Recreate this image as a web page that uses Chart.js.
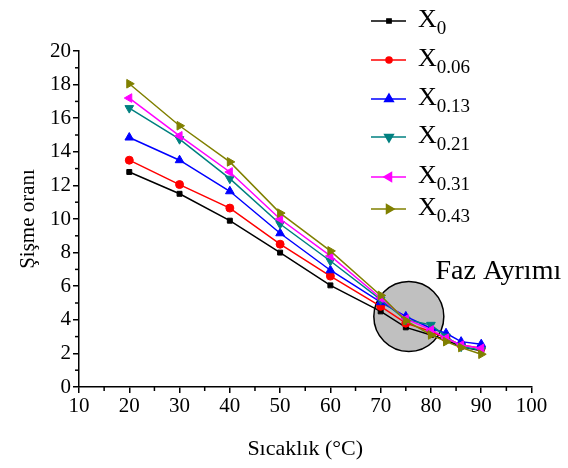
<!DOCTYPE html>
<html>
<head>
<meta charset="utf-8">
<script src="https://cdn.jsdelivr.net/npm/chart.js@4.4.1/dist/chart.umd.min.js"></script>
<style>
html,body{margin:0;padding:0;background:#fff;}
#wrap{width:568px;height:468px;position:relative;}
</style>
</head>
<body>
<div id="wrap"><canvas id="c" width="568" height="468"></canvas></div>
<script>
// ---- Data ----
const temperatures = [20, 30, 40, 50, 60, 70, 75, 80, 83, 86, 90];
const x0    = [12.8, 11.5, 9.9, 8.0, 6.05, 4.5, 3.55, 3.1, 2.8, 2.4, 2.15];
const x006  = [13.5, 12.05, 10.65, 8.5, 6.6, 4.8, 3.8, 3.3, 2.9, 2.5, 2.3];
const x013  = [14.85, 13.5, 11.65, 9.15, 6.95, 5.05, 4.2, 3.5, 3.2, 2.7, 2.55];
const x021  = [16.6, 14.75, 12.4, 9.7, 7.5, 5.2, 4.0, 3.7, 3.0, 2.4, 2.2];
const x031  = [17.2, 14.95, 12.8, 10.0, 7.8, 5.3, 4.05, 3.4, 2.9, 2.5, 2.3];
const x043  = [18.05, 15.55, 13.4, 10.35, 8.1, 5.45, 3.95, 3.1, 2.7, 2.35, 1.95];
const seriesNames = ['0', '0.06', '0.13', '0.21', '0.31', '0.43'];
const xTicks = [10, 20, 30, 40, 50, 60, 70, 80, 90, 100];
const yTicks = [0, 2, 4, 6, 8, 10, 12, 14, 16, 18, 20];
const phaseCircle = [{x: 75.6, y: 4.2, r: 35}];
const phaseLabel = 'Faz Ayrımı';
const phaseLabelPos = {x: 80.9, y: 6.45};
const xTitle = 'Sıcaklık (°C)';
const yTitle = 'Şişme oranı';

const SERIF = "'Liberation Serif', 'Times New Roman', serif";
const colors = ['#000000', '#ff0000', '#0000ff', '#008080', '#ff00ff', '#808000'];
const styles = ['rect', 'circle', 'triangle', 'triangle', 'triangle', 'triangle'];
const rotations = [0, 0, 0, 180, 270, 90];
const allSeries = [x0, x006, x013, x021, x031, x043];

const lineDatasets = allSeries.map((vals, i) => ({
  type: 'line',
  label: 'X' + seriesNames[i],
  data: temperatures.map((t, k) => ({x: t, y: vals[k]})),
  borderColor: colors[i],
  backgroundColor: colors[i],
  borderWidth: 1.5,
  pointStyle: styles[i],
  pointRotation: rotations[i],
  pointRadius: i === 0 ? 3.5 : (i === 1 ? 4 : 5),
  pointBorderWidth: 1,
  tension: 0,
  order: 6 - i
}));

const bubble = {
  type: 'bubble',
  label: 'phase',
  data: phaseCircle,
  backgroundColor: '#c0c0c0',
  borderColor: '#000000',
  borderWidth: 1.5,
  order: 20
};

const extras = {
  id: 'extras',
  afterDraw(chart) {
    const ctx = chart.ctx;
    const xs = chart.scales.x, ys = chart.scales.y;
    ctx.save();
    // minor ticks
    ctx.strokeStyle = '#000';
    ctx.lineWidth = 1.5;
    for (let v = 15; v < 100; v += 10) {
      const px = xs.getPixelForValue(v);
      ctx.beginPath(); ctx.moveTo(px, ys.bottom); ctx.lineTo(px, ys.bottom + 4); ctx.stroke();
    }
    for (let v = 1; v < 20; v += 2) {
      const py = ys.getPixelForValue(v);
      ctx.beginPath(); ctx.moveTo(xs.left, py); ctx.lineTo(xs.left - 4, py); ctx.stroke();
    }
    // phase label
    ctx.fillStyle = '#000';
    ctx.font = '28px ' + SERIF;
    ctx.textBaseline = 'alphabetic';
    ctx.textAlign = 'left';
    ctx.fillText(phaseLabel, xs.getPixelForValue(phaseLabelPos.x), ys.getPixelForValue(phaseLabelPos.y));
    // legend
    const legY = [21, 60, 99, 137, 177, 209];
    for (let i = 0; i < 6; i++) {
      const y = legY[i];
      ctx.strokeStyle = colors[i];
      ctx.lineWidth = 1.5;
      ctx.beginPath(); ctx.moveTo(371, y); ctx.lineTo(406, y); ctx.stroke();
      ctx.fillStyle = colors[i];
      Chart.helpers.drawPoint(ctx, {
        pointStyle: styles[i], rotation: rotations[i],
        radius: i < 2 ? 3 : 5, borderWidth: 1
      }, 389, y);
      ctx.fillStyle = '#000';
      ctx.font = '26px ' + SERIF;
      ctx.textBaseline = 'alphabetic';
      ctx.fillText('X', 418, y + 6);
      const w = ctx.measureText('X').width;
      ctx.font = '19px ' + SERIF;
      ctx.fillText(seriesNames[i], 418 + w, y + 13);
    }
    ctx.restore();
  }
};

new Chart(document.getElementById('c'), {
  type: 'line',
  data: { datasets: [...lineDatasets, bubble] },
  options: {
    responsive: false,
    animation: false,
    devicePixelRatio: 1,
    layout: { padding: { top: 51, right: 35, left: 0, bottom: 0 } },
    plugins: { legend: { display: false }, tooltip: { enabled: false } },
    scales: {
      x: {
        type: 'linear', min: 10, max: 100,
        afterBuildTicks(s) { s.ticks = xTicks.map(v => ({value: v})); },
        afterFit(s) { s.height = 81; },
        border: { display: true, color: '#000', width: 1.5 },
        grid: { drawOnChartArea: false, drawTicks: true, tickLength: 6, color: '#000', lineWidth: 1.5 },
        ticks: { color: '#000', font: { family: SERIF, size: 21 }, padding: 1, maxRotation: 0 },
        title: { display: true, text: xTitle, color: '#000', font: { family: SERIF, size: 22 }, padding: { top: 0, bottom: 6 } }
      },
      y: {
        type: 'linear', min: 0, max: 20,
        afterBuildTicks(s) { s.ticks = yTicks.map(v => ({value: v})); },
        afterFit(s) { s.width = 79; },
        border: { display: true, color: '#000', width: 1.5 },
        grid: { drawOnChartArea: false, drawTicks: true, tickLength: 6, color: '#000', lineWidth: 1.5 },
        ticks: { color: '#000', font: { family: SERIF, size: 21 }, padding: 2 },
        title: { display: true, text: yTitle, color: '#000', font: { family: SERIF, size: 21 }, padding: { top: 16, bottom: 0 } }
      }
    }
  },
  plugins: [extras]
});
</script>
</body>
</html>
